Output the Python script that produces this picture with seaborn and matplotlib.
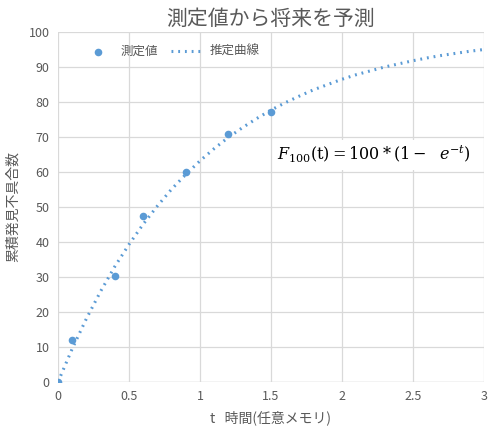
import matplotlib
matplotlib.use("Agg")
import matplotlib.pyplot as plt
import seaborn as sns

# 測定値
t_meas = [0, 0.1, 0.4, 0.6, 0.9, 1.2, 1.5]
y_meas = [0, 12, 30.4, 47.4, 60, 70.9, 77.1]

# 推定曲線 (読み取り値)
t_fit = [0.0, 0.1, 0.2, 0.3, 0.4, 0.5, 0.6, 0.7, 0.8, 0.9, 1.0,
         1.1, 1.2, 1.3, 1.4, 1.5, 1.6, 1.7, 1.8, 1.9, 2.0,
         2.1, 2.2, 2.3, 2.4, 2.5, 2.6, 2.7, 2.8, 2.9, 3.0]
y_fit = [0.0, 9.5, 18.1, 25.9, 33.0, 39.3, 45.1, 50.3, 55.1, 59.3, 63.2,
         66.7, 69.9, 72.7, 75.3, 77.7, 79.8, 81.7, 83.5, 85.0, 86.5,
         87.8, 88.9, 90.0, 90.9, 91.8, 92.6, 93.3, 93.9, 94.5, 95.0]

sns.set_style("white")
plt.rcParams['font.family'] = ['Noto Sans CJK JP', 'DejaVu Sans']
plt.rcParams['mathtext.fontset'] = 'dejavuserif'

blue = "#5b9bd5"
grey = "#595959"

fig = plt.figure(figsize=(4.93, 4.26), dpi=100)
ax = fig.add_axes([58 / 493, 1 - 382 / 426, 426 / 493, 350 / 426])

sns.scatterplot(x=t_meas, y=y_meas, ax=ax, color=blue, s=30, edgecolor=blue,
                linewidth=0, label="測定値", zorder=3)
sns.lineplot(x=t_fit, y=y_fit, ax=ax, color=blue, linewidth=2.2,
             linestyle=(0, (0.6, 1.6)), label="推定曲線", zorder=2)

ax.set_xlim(0, 3)
ax.set_ylim(0, 100)
ax.set_xticks([0, 0.5, 1, 1.5, 2, 2.5, 3])
ax.set_xticklabels(["0", "0.5", "1", "1.5", "2", "2.5", "3"])
ax.set_yticks(range(0, 101, 10))
ax.grid(True, color="#d9d9d9", linewidth=0.9)
for s in ax.spines.values():
    s.set_visible(False)
ax.axhline(0, color="#d9d9d9", linewidth=1.0, zorder=1)
ax.tick_params(colors=grey, labelsize=9, length=0, pad=6)

ax.set_title("測定値から将来を予測", color=grey, fontsize=15, pad=5)
ax.set_xlabel("t   時間(任意メモリ)", color=grey, fontsize=10, labelpad=5)
ax.set_ylabel("累積発見不具合数", color=grey, fontsize=10, labelpad=6)

ax.text(1.545, 63.2, r"$F_{100}(\mathrm{t}) = 100 * (1 -\ \ e^{-t})$",
        fontsize=11.5, color="black",
        bbox=dict(facecolor="white", edgecolor="none", pad=3))

leg = ax.legend(loc="upper left", bbox_to_anchor=(0.03, 0.995), ncol=2,
                frameon=False, fontsize=9, handlelength=2.6, handletextpad=0.5,
                columnspacing=1.0)
for txt in leg.get_texts():
    txt.set_color(grey)

fig.savefig("out.png", dpi=100, facecolor="white")
